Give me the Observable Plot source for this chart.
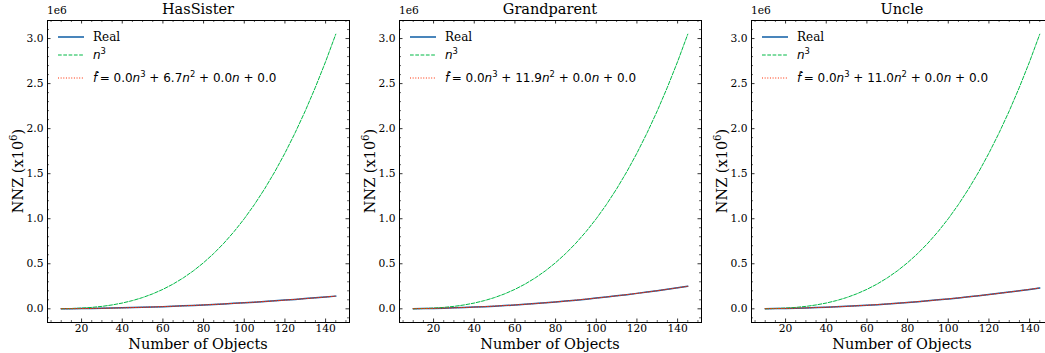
<!DOCTYPE html>
<html>
<head>
<meta charset="utf-8">
<script src="https://cdn.jsdelivr.net/npm/d3@7"></script>
<script src="https://cdn.jsdelivr.net/npm/@observablehq/plot@0.6"></script>
<style>
  html, body { margin: 0; padding: 0; background: #fff; }
  #wrap { position: relative; width: 1045px; height: 353px; overflow: hidden; background: #fff; font-family: "DejaVu Serif", serif; color: #000; }
  .panel { position: absolute; top: 0; width: 352px; height: 353px; }
  .panel svg { max-width: none !important; }
  .title { position: absolute; top: 1px; font-size: 14.5px; line-height: 17px; text-align: center; white-space: nowrap; }
  .xlabel { position: absolute; top: 336px; font-size: 14.5px; line-height: 16px; text-align: center; white-space: nowrap; }
  .ylabel { position: absolute; font-size: 14.5px; white-space: nowrap; transform-origin: center center; transform: translate(-50%, -50%) rotate(-90deg); }
  .offset { position: absolute; top: 4px; font-size: 10.7px; line-height: 13px; }
  .legend { position: absolute; font-size: 12px; }
  .legrow { position: absolute; left: 0; height: 16px; white-space: nowrap; display: flex; align-items: center; }
  .legrow svg { margin-right: 9px; }
  .math { font-family: "DejaVu Sans", sans-serif; font-size: 12px; }
  .math i { font-style: italic; }
  sup { font-size: 0.7em; vertical-align: 0.55em; line-height: 0; }
</style>
</head>
<body>
<div id="wrap"></div>
<script>
// ---- data (NNZ in millions) ----
const titles = ["HasSister", "Grandparent", "Uncle"];
const coefN2 = ["6.7", "11.9", "11.0"];
const nObjects = [10,15,20,25,30,35,40,45,50,55,60,65,70,75,80,85,90,95,100,105,110,115,120,125,130,135,140,145];
const cubic = [0.0010,0.0034,0.0080,0.0156,0.0270,0.0429,0.0640,0.0911,0.1250,0.1664,0.2160,0.2746,0.3430,0.4219,0.5120,0.6141,0.7290,0.8574,1.0000,1.1576,1.3310,1.5209,1.7280,1.9531,2.1970,2.4604,2.7440,3.0486];
const realHasSister = [0.0007,0.0015,0.0027,0.0042,0.0060,0.0082,0.0107,0.0136,0.0168,0.0203,0.0241,0.0283,0.0328,0.0377,0.0429,0.0484,0.0543,0.0605,0.0670,0.0739,0.0811,0.0886,0.0965,0.1047,0.1132,0.1221,0.1313,0.1409];
const realGrandparent = [0.0012,0.0027,0.0048,0.0074,0.0107,0.0146,0.0190,0.0241,0.0298,0.0360,0.0428,0.0503,0.0583,0.0669,0.0762,0.0860,0.0964,0.1074,0.1190,0.1312,0.1440,0.1574,0.1714,0.1859,0.2011,0.2169,0.2332,0.2502];
const realUncle = [0.0011,0.0025,0.0044,0.0069,0.0099,0.0135,0.0176,0.0223,0.0275,0.0333,0.0396,0.0465,0.0539,0.0619,0.0704,0.0795,0.0891,0.0993,0.1100,0.1213,0.1331,0.1455,0.1584,0.1719,0.1859,0.2005,0.2156,0.2313];
const fitHasSister = realHasSister;
const fitGrandparent = realGrandparent;
const fitUncle = realUncle;
const xTicks = [20,40,60,80,100,120,140];
const xMinorTicks = [5,10,15,25,30,35,45,50,55,65,70,75,85,90,95,105,110,115,125,130,135,145,150];
const yTicks = [0.0,0.5,1.0,1.5,2.0,2.5,3.0];
const yMinorTicks = [-0.1,0.1,0.2,0.3,0.4,0.6,0.7,0.8,0.9,1.1,1.2,1.3,1.4,1.6,1.7,1.8,1.9,2.1,2.2,2.3,2.4,2.6,2.7,2.8,2.9,3.1,3.2];

const reals = [realHasSister, realGrandparent, realUncle];
const fits = [fitHasSister, fitGrandparent, fitUncle];

// ---- layout ----
const frameLefts = [47, 399, 751];
const mL = 47, mR = 3, mT = 20, mB = 31, W = 352, H = 353;
const fw = W - mL - mR, fh = H - mT - mB;
const BLUE = "#0C5DA5", GREEN = "#00B945", RED = "#FF2C00";

const wrap = document.getElementById("wrap");

function lineSample(color, width, dash) {
  return `<svg width="26" height="6"><line x1="0" y1="3" x2="26" y2="3" stroke="${color}" stroke-width="${width}" ${dash ? `stroke-dasharray="${dash}"` : ""}/></svg>`;
}

titles.forEach((title, k) => {
  const rows = nObjects.map((n, i) => ({n, real: reals[k][i], cube: cubic[i], fit: fits[k][i]}));
  const plot = Plot.plot({
    width: W, height: H,
    marginLeft: mL, marginRight: mR, marginTop: mT, marginBottom: mB,
    style: {fontFamily: "DejaVu Serif", fontSize: "10.7px", color: "#000", background: "transparent", overflow: "visible", maxWidth: "none"},
    x: {domain: [3.25, 151.75]},
    y: {domain: [-0.1519, 3.2005]},
    marks: [
      Plot.line(rows, {x: "n", y: "real", stroke: BLUE, strokeWidth: 1.5}),
      Plot.line(rows, {x: "n", y: "cube", stroke: GREEN, strokeWidth: 1, strokeDasharray: "3.7,1.6"}),
      Plot.line(rows, {x: "n", y: "fit", stroke: RED, strokeWidth: 1, strokeDasharray: "1,1.65"}),
      // inward ticks on all sides
      Plot.tickX(xTicks, {x: d => d, insetTop: fh - 3.5, stroke: "#000", strokeWidth: 0.8}),
      Plot.tickX(xTicks, {x: d => d, insetBottom: fh - 3.5, stroke: "#000", strokeWidth: 0.8}),
      Plot.tickX(xMinorTicks, {x: d => d, insetTop: fh - 2, stroke: "#000", strokeWidth: 0.6}),
      Plot.tickX(xMinorTicks, {x: d => d, insetBottom: fh - 2, stroke: "#000", strokeWidth: 0.6}),
      Plot.tickY(yTicks, {y: d => d, insetRight: fw - 3.5, stroke: "#000", strokeWidth: 0.8}),
      Plot.tickY(yTicks, {y: d => d, insetLeft: fw - 3.5, stroke: "#000", strokeWidth: 0.8}),
      Plot.tickY(yMinorTicks, {y: d => d, insetRight: fw - 2, stroke: "#000", strokeWidth: 0.6}),
      Plot.tickY(yMinorTicks, {y: d => d, insetLeft: fw - 2, stroke: "#000", strokeWidth: 0.6}),
      Plot.axisX(xTicks, {tickSize: 0, tickPadding: 2, label: null}),
      Plot.axisY(yTicks, {tickSize: 0, tickPadding: 4, tickFormat: d3.format(".1f"), label: null}),
      Plot.frame({stroke: "#000", strokeWidth: 1})
    ]
  });
  const L = frameLefts[k];
  const div = document.createElement("div");
  div.className = "panel";
  div.style.left = (L - mL) + "px";
  div.appendChild(plot);
  wrap.appendChild(div);

  const cx = L + fw / 2;
  const t = document.createElement("div");
  t.className = "title";
  t.style.left = (cx - 100) + "px"; t.style.width = "200px";
  t.textContent = title;
  wrap.appendChild(t);

  const xl = document.createElement("div");
  xl.className = "xlabel";
  xl.style.left = (cx - 100) + "px"; xl.style.width = "200px";
  xl.textContent = "Number of Objects";
  wrap.appendChild(xl);

  const yl = document.createElement("div");
  yl.className = "ylabel";
  yl.style.left = (L - 29) + "px"; yl.style.top = (mT + fh / 2) + "px";
  yl.innerHTML = "NNZ (x10<sup>6</sup>)";
  wrap.appendChild(yl);

  const off = document.createElement("div");
  off.className = "offset";
  off.style.left = L + "px";
  off.textContent = "1e6";
  wrap.appendChild(off);

  const lg = document.createElement("div");
  lg.className = "legend";
  lg.style.left = (L + 11) + "px"; lg.style.top = "0px";
  lg.innerHTML =
    `<div class="legrow" style="top:29px">${lineSample(BLUE, 1.5)}<span>Real</span></div>` +
    `<div class="legrow" style="top:47px">${lineSample(GREEN, 1, "3.7,1.6")}<span class="math"><i>n</i><sup>3</sup></span></div>` +
    `<div class="legrow" style="top:70px">${lineSample(RED, 1, "1,1.65")}<span class="math"><i>f\u0302</i>\u2009= 0.0<i>n</i><sup>3</sup> + ${coefN2[k]}<i>n</i><sup>2</sup> + 0.0<i>n</i> + 0.0</span></div>`;
  wrap.appendChild(lg);
});
</script>
</body>
</html>
